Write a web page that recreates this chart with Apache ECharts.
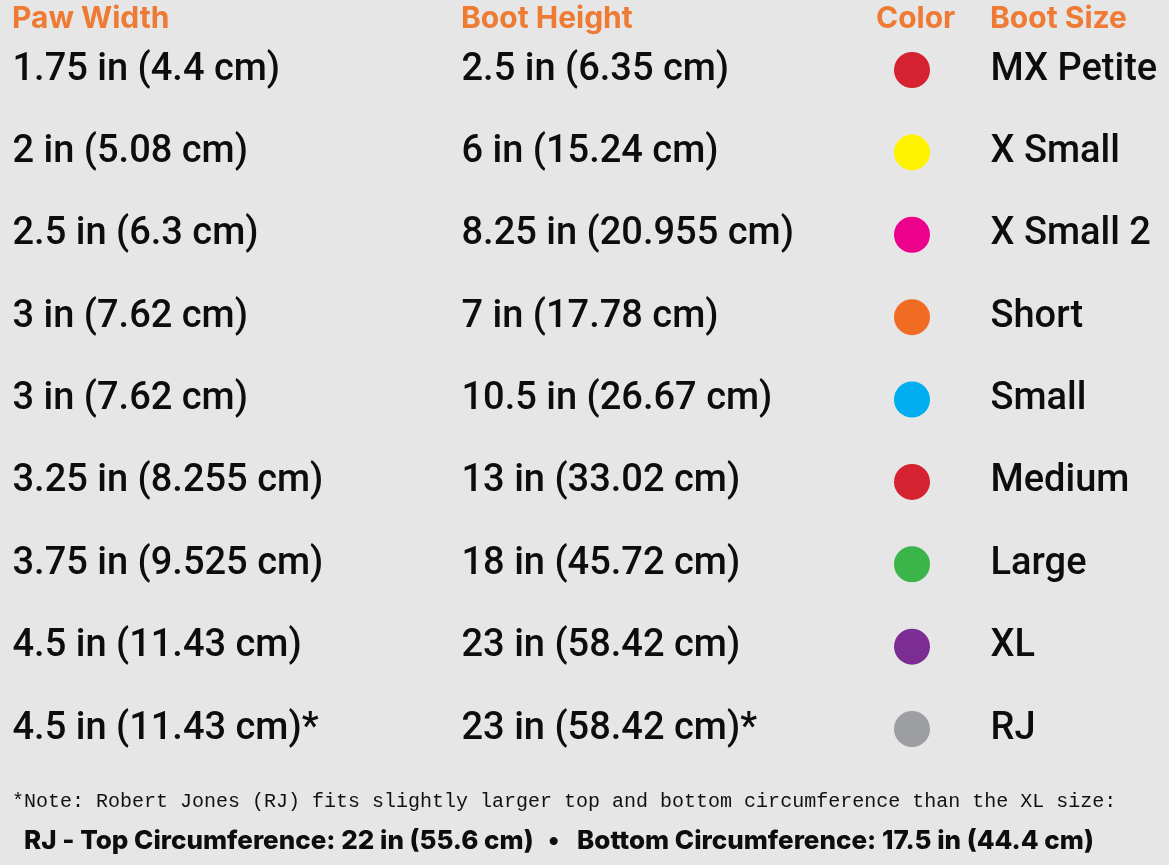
<!DOCTYPE html>
<html>
<head>
<meta charset="utf-8">
<script src="https://cdn.jsdelivr.net/npm/echarts@6/dist/echarts.min.js"></script>
<style>
html,body{margin:0;padding:0;background:#e6e6e6;}
#chart{width:1169px;height:865px;}
</style>
</head>
<body>
<div id="chart"></div>
<script>
// ---- data ----
var headers = ['Paw Width', 'Boot Height', 'Color', 'Boot Size'];
var pawWidth = ['1.75 in (4.4 cm)', '2 in (5.08 cm)', '2.5 in (6.3 cm)', '3 in (7.62 cm)', '3 in (7.62 cm)', '3.25 in (8.255 cm)', '3.75 in (9.525 cm)', '4.5 in (11.43 cm)', '4.5 in (11.43 cm)*'];
var bootHeight = ['2.5 in (6.35 cm)', '6 in (15.24 cm)', '8.25 in (20.955 cm)', '7 in (17.78 cm)', '10.5 in (26.67 cm)', '13 in (33.02 cm)', '18 in (45.72 cm)', '23 in (58.42 cm)', '23 in (58.42 cm)*'];
var sizeColors = ['#d42231', '#fff200', '#ec008c', '#f26b23', '#00aeef', '#d42231', '#3bb54a', '#7b2d94', '#9d9ea2'];
var bootSize = ['MX Petite', 'X Small', 'X Small 2', 'Short', 'Small', 'Medium', 'Large', 'XL', 'RJ'];
var noteLine = '*Note: Robert Jones (RJ) fits slightly larger top and bottom circumference than the XL size:';
var rjTop = 'RJ - Top Circumference: 22 in (55.6 cm)';
var rjBottom = 'Bottom Circumference: 17.5 in (44.4 cm)';

// ---- layout ----
var W = 1169, H = 865;
var COL = { paw: 12, height: 461, dot: 912, size: 990 };
var HEAD_X = [12, 461, 876, 990];
var ORANGE = '#ee7a33';
var INK = '#0d0d0d';

function textSeries(name, x, arr) {
  return {
    name: name,
    type: 'scatter',
    symbol: 'circle',
    symbolSize: 1,
    itemStyle: { color: 'rgba(0,0,0,0)', opacity: 1 },
    silent: true,
    data: arr.map(function (t, i) { return [x, i]; }),
    label: {
      show: true,
      position: 'right',
      distance: 0,
      formatter: function (p) { return arr[p.dataIndex]; },
      fontFamily: 'Roboto',
      fontWeight: 500,
      fontSize: 38,
      color: INK,
      opacity: 1
    }
  };
}

var chart = echarts.init(document.getElementById('chart'), null, { renderer: 'canvas' });
var option = {
  backgroundColor: '#e6e6e6',
  animation: false,
  grid: { left: 0, right: 0, top: 70, bottom: H - 729 },
  xAxis: { type: 'value', min: 0, max: W, show: false },
  yAxis: { type: 'category', inverse: true, boundaryGap: false, data: bootSize, show: false },
  series: [
    textSeries('Paw Width', COL.paw, pawWidth),
    textSeries('Boot Height', COL.height, bootHeight),
    {
      name: 'Color',
      type: 'scatter',
      symbol: 'circle',
      symbolSize: 36,
      silent: true,
      itemStyle: { opacity: 1 },
      data: sizeColors.map(function (c, i) { return { value: [COL.dot, i], itemStyle: { color: c, opacity: 1 } }; })
    },
    textSeries('Boot Size', COL.size, bootSize)
  ],
  graphic: headers.map(function (h, i) {
    return {
      type: 'text', left: HEAD_X[i], top: 4,
      style: { text: h, fontFamily: 'Inter', fontWeight: 'bold', fontSize: 30, fill: ORANGE }
    };
  }).concat([
    { type: 'text', left: 12, top: 792,
      style: { text: noteLine, fontFamily: 'Liberation Mono', fontSize: 20, fill: '#111' } },
    { type: 'text', left: 24, top: 828,
      style: { text: rjTop, fontFamily: 'Inter', fontWeight: 800, fontSize: 26, fill: INK } },
    { type: 'text', left: 548, top: 828,
      style: { text: '•', fontFamily: 'Inter', fontWeight: 800, fontSize: 26, fill: INK } },
    { type: 'text', left: 577, top: 828,
      style: { text: rjBottom, fontFamily: 'Inter', fontWeight: 800, fontSize: 26, fill: INK } }
  ])
};
chart.setOption(option);
</script>
</body>
</html>
